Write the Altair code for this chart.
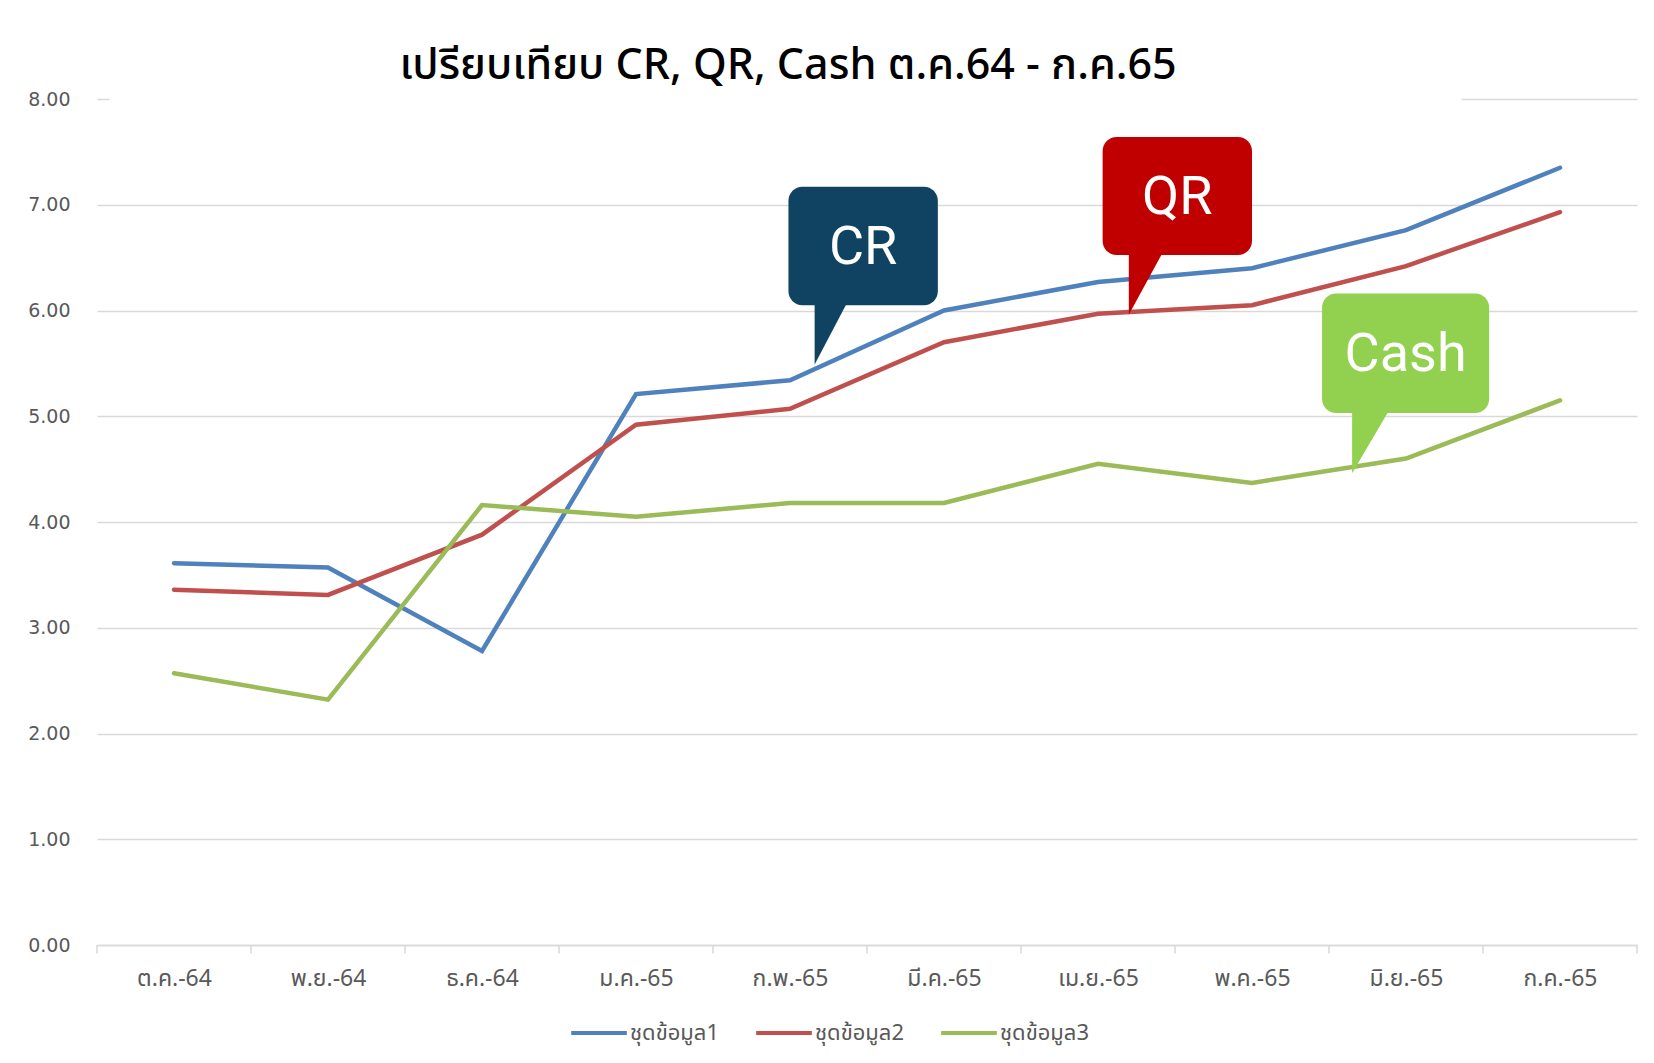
import json
import altair as alt
import pandas as pd

# ---- data ----
months = ["ต.ค.-64", "พ.ย.-64", "ธ.ค.-64", "ม.ค.-65", "ก.พ.-65",
          "มี.ค.-65", "เม.ย.-65", "พ.ค.-65", "มิ.ย.-65", "ก.ค.-65"]
series_names = ["ชุดข้อมูล1", "ชุดข้อมูล2", "ชุดข้อมูล3"]
cr_values = [3.61, 3.57, 2.78, 5.21, 5.34, 6.00, 6.27, 6.40, 6.76, 7.35]
qr_values = [3.36, 3.31, 3.88, 4.92, 5.07, 5.70, 5.97, 6.05, 6.42, 6.93]
cash_values = [2.57, 2.32, 4.16, 4.05, 4.18, 4.18, 4.55, 4.37, 4.60, 5.15]
y_ticks = [0, 1, 2, 3, 4, 5, 6, 7, 8]

# callout annotations (data units)
callout_labels = ["CR", "QR", "Cash"]
callout_x1 = [3.99, 6.03, 7.455]
callout_x2 = [4.96, 7.00, 8.54]
callout_top = [7.17, 7.64, 6.16]
callout_bottom = [6.05, 6.525, 5.03]
tail_x_left = [4.16, 6.20, 7.65]
tail_x_right = [4.38, 6.43, 7.90]
tail_tip_y = [5.49, 5.96, 4.46]

# ---- styles ----
series_colors = ["#4F81BD", "#C0504D", "#9BBB59"]
callout_colors = ["#0F4361", "#C00000", "#92D050"]
THAI_FONT = "'Noto Sans Thai', 'Noto Sans Thai UI', 'Noto Sans', sans-serif"
GRID = "#d9d9d9"
LABEL = "#595959"

rows = []
for name, vals in zip(series_names, [cr_values, qr_values, cash_values]):
    for i, v in enumerate(vals):
        rows.append({"idx": i, "value": v, "series": name})
df = pd.DataFrame(rows)

n = len(months)
bounds = pd.DataFrame({"b": [i - 0.5 for i in range(n + 1)], "y0": 0.0, "y1": -0.08})

boxes = pd.DataFrame({
    "label": callout_labels, "x1": callout_x1, "x2": callout_x2,
    "top": callout_top, "bottom": callout_bottom, "color": callout_colors,
})
boxes["cx"] = (boxes["x1"] + boxes["x2"]) / 2
boxes["cy"] = (boxes["top"] + boxes["bottom"]) / 2

tail_rows = []
for lab, xl, xr, ty, bb, col in zip(callout_labels, tail_x_left, tail_x_right,
                                    tail_tip_y, callout_bottom, callout_colors):
    tail_rows.append({"label": lab, "x": xl, "y": ty, "y2": bb + 0.05, "color": col})
    tail_rows.append({"label": lab, "x": xr, "y": bb + 0.05, "y2": bb + 0.05, "color": col})
tails = pd.DataFrame(tail_rows)

cover = pd.DataFrame({"x": [-0.42], "x2": [8.36], "y": [7.96], "y2": [8.04]})

xscale = alt.Scale(domain=[-0.5, n - 0.5], nice=False, zero=False)
yscale = alt.Scale(domain=[0, 8], nice=False)

label_expr = json.dumps(months, ensure_ascii=False) + "[round(datum.value)]"

x_axis = alt.Axis(values=list(range(n)), labelExpr=label_expr, ticks=False,
                  grid=False, domainColor=GRID, domainWidth=1.5,
                  labelFont=THAI_FONT, labelFontSize=23, labelColor=LABEL,
                  labelPadding=22, title=None)
y_axis = alt.Axis(values=y_ticks, format=".2f", ticks=False, domain=False,
                  grid=True, gridColor=GRID, gridWidth=1.5,
                  labelFont="DejaVu Sans", labelFontSize=19, labelColor=LABEL,
                  labelPadding=27, title=None)


def X(field):
    return alt.X(field, scale=xscale, axis=x_axis, title=None)


def Y(field):
    return alt.Y(field, scale=yscale, axis=y_axis, title=None)


lines = alt.Chart(df).mark_line(strokeWidth=4.5, strokeCap="round").encode(
    x=X("idx:Q"),
    y=Y("value:Q"),
    color=alt.Color("series:N", scale=alt.Scale(domain=series_names, range=series_colors),
                    legend=alt.Legend(title=None, orient="none", direction="horizontal",
                                      legendX=472, legendY=904,
                                      symbolType="stroke", symbolSize=3100,
                                      symbolStrokeWidth=4, labelFont=THAI_FONT,
                                      labelFontSize=22, labelColor=LABEL,
                                      labelOffset=1, columnPadding=29)),
    detail="series:N",
)

ticks = alt.Chart(bounds).mark_rule(color=GRID, strokeWidth=1.5).encode(
    x=X("b:Q"), y=Y("y0:Q"), y2="y1:Q",
)

cover_rect = alt.Chart(cover).mark_rect(color="white").encode(
    x=X("x:Q"), x2="x2:Q", y=Y("y:Q"), y2="y2:Q",
)

tail_layer = alt.Chart(tails).mark_area().encode(
    x=X("x:Q"), y=Y("y:Q"), y2="y2:Q",
    fill=alt.Fill("color:N", scale=None),
    detail="label:N",
)

box_layer = alt.Chart(boxes).mark_rect(cornerRadius=14).encode(
    x=X("x1:Q"), x2="x2:Q", y=Y("top:Q"), y2="bottom:Q",
    fill=alt.Fill("color:N", scale=None),
)

text_layer = alt.Chart(boxes).mark_text(font="Roboto", fontSize=54, color="white",
                                        baseline="middle", align="center", dy=2).encode(
    x=X("cx:Q"), y=Y("cy:Q"), text="label:N",
)

chart = alt.layer(lines, cover_rect, ticks, tail_layer, box_layer, text_layer).properties(
    width=1540, height=846,
    title=alt.TitleParams("เปรียบเทียบ CR, QR, Cash ต.ค.64 - ก.ค.65", font=THAI_FONT,
                          fontSize=43, fontWeight=500, color="black", anchor="middle",
                          dx=-79, offset=2),
    autosize=alt.AutoSizeParams(type="none"),
    padding={"left": 89, "top": 91, "right": 9, "bottom": 112},
    background="white",
).configure_view(stroke=None)

chart.save("out.html", embed_options={"renderer": "svg", "actions": False})
